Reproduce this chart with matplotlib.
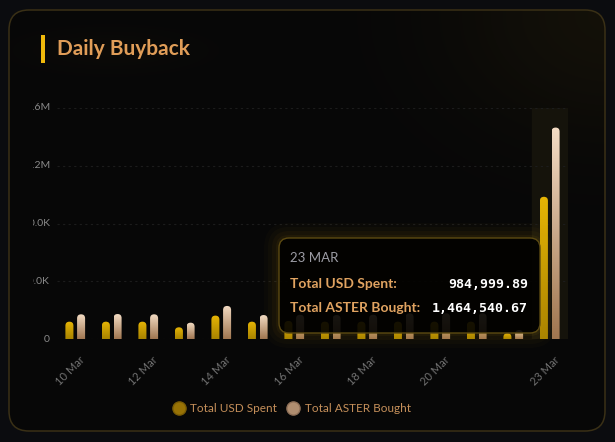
import numpy as np
import matplotlib
matplotlib.use("Agg")
import matplotlib.pyplot as plt
from matplotlib.patches import FancyBboxPatch, Rectangle
from matplotlib.transforms import Bbox, ScaledTranslation
from matplotlib.colors import LinearSegmentedColormap, to_rgb
from matplotlib.lines import Line2D

# ---------------- data ----------------
dates = ["10 Mar", "11 Mar", "12 Mar", "13 Mar", "14 Mar", "15 Mar", "16 Mar",
         "17 Mar", "18 Mar", "19 Mar", "20 Mar", "21 Mar", "22 Mar", "23 Mar"]
usd_spent = [120000, 120000, 120000, 81000, 162000, 120000, 125000,
             120000, 120000, 120000, 120000, 120000, 40000, 984999.89]
aster_bought = [171000, 173000, 171000, 113000, 229000, 166000, 168000,
                166000, 168000, 178000, 178000, 178000, 62000, 1464540.67]
y_ticks = [0, 400000, 800000, 1200000, 1600000]
y_tick_labels = ["0", "400.0K", "800.0K", "1.2M", "1.6M"]
x_label_idx = [0, 2, 4, 6, 8, 10, 13]
series_names = ["Total USD Spent", "Total ASTER Bought"]
tooltip_idx = 13
tooltip_date = "23 MAR"
tooltip_values = ["984,999.89", "1,464,540.67"]

W, H = 615, 442
fig = plt.figure(figsize=(W / 100, H / 100), dpi=100, facecolor="#0b0c0f")

# ---------------- background card ----------------
bg = fig.add_axes([0, 0, 1, 1], zorder=0)
bg.set_xlim(0, W); bg.set_ylim(H, 0); bg.axis("off")
card = FancyBboxPatch((9, 10), 596, 421, boxstyle="round,pad=0,rounding_size=20",
                      facecolor="none", edgecolor="#3a3016", linewidth=1.1, zorder=3)
bg.add_patch(card)
yy, xx = np.mgrid[0:H, 0:W]
base = np.array(to_rgb("#070707"))
gold = np.array(to_rgb("#2a220c"))
glow = 0.35 * np.exp(-(((xx - 610) / 160.0) ** 2 + ((yy - 15) / 120.0) ** 2))
glow += 0.12 * np.exp(-(((xx - 110) / 90.0) ** 2 + ((yy - 50) / 22.0) ** 2))
img = base[None, None, :] * (1 - glow[..., None]) + gold[None, None, :] * glow[..., None]
im = bg.imshow(img, extent=[0, W, H, 0], aspect="auto", zorder=1)
clip_card = FancyBboxPatch((9, 10), 596, 421, boxstyle="round,pad=0,rounding_size=20",
                           facecolor="none", edgecolor="none", transform=bg.transData)
im.set_clip_path(clip_card)

# title
bg.add_patch(Rectangle((41, 35), 4, 28, facecolor="#f0b90b", edgecolor="none", zorder=4))
bg.text(57, 49, "Daily Buyback", color="#e09d58", fontsize=15, fontweight="bold",
        family=["Lato", "DejaVu Sans"], va="center", ha="left", zorder=4)

# ---------------- main axes ----------------
ax_l, ax_r, ax_t, ax_b = 57, 568, 108, 339
ax = fig.add_axes([ax_l / W, 1 - ax_b / H, (ax_r - ax_l) / W, (ax_b - ax_t) / H], zorder=2)
ax.set_facecolor("none")
n = len(dates)
x = np.arange(n)
ax.set_xlim(-0.5, n - 0.5)
ax.set_ylim(0, 1600000)
for s in ax.spines.values():
    s.set_visible(False)

ax.axvspan(tooltip_idx - 0.5, tooltip_idx + 0.5, color="#15130b", zorder=0)
for t in y_ticks:
    ax.axhline(t, color="#1c1c1c", lw=0.8, ls=(0, (2, 3)), zorder=0.5)

# y labels (clipped on the left like the reference)
clipbox = Bbox([[33, 0], [W, H]])
for t, lab in zip(y_ticks, y_tick_labels):
    txt = ax.text(-7 / (ax_r - ax_l), t, lab, transform=ax.get_yaxis_transform(),
                  ha="right", va="center", color="#8a8a8a", fontsize=7.5,
                  family=["Lato", "DejaVu Sans"])
    txt.set_clip_path(None)
    txt.set_clip_box(clipbox)
    txt.set_clip_on(True)
ax.set_yticks([])

ax.set_xticks(x_label_idx)
ax.set_xticklabels([dates[i] for i in x_label_idx], rotation=45, ha="right",
                   va="top", rotation_mode="anchor", color="#727272", fontsize=8,
                   family=["Lato", "DejaVu Sans"])
ax.tick_params(axis="x", length=0, pad=11)
shift = ScaledTranslation(4 / 100, 0, fig.dpi_scale_trans)
for lab in ax.get_xticklabels():
    lab.set_transform(lab.get_transform() + shift)

# bars with gradients and rounded tops
width = 0.22
offs = [-0.16, 0.16]
cmaps = [LinearSegmentedColormap.from_list("g", ["#a88300", "#e6b505"]),
         LinearSegmentedColormap.from_list("b", ["#a07650", "#f3dcc4"])]
px_per_y = (ax_b - ax_t) / 1600000.0
px_per_x = (ax_r - ax_l) / float(n)
grad = np.linspace(0, 1, 256).reshape(-1, 1)
for si, vals in enumerate([usd_spent, aster_bought]):
    bars = ax.bar(x + offs[si], vals, width=width, color="none", zorder=1)
    for b in bars:
        x0, w, h = b.get_x(), b.get_width(), b.get_height()
        r = w / 2
        aspect = (1 / px_per_y) / (1 / px_per_x)
        patch = FancyBboxPatch((x0, -r * aspect * 2), w, h + r * aspect * 2,
                               boxstyle=f"round,pad=0,rounding_size={r}",
                               mutation_aspect=aspect, facecolor="none",
                               edgecolor="none", transform=ax.transData)
        ax.add_patch(patch)
        gi = ax.imshow(grad, extent=[x0, x0 + w, 0, h], origin="lower",
                       cmap=cmaps[si], aspect="auto", zorder=2)
        gi.set_clip_path(patch)
ax.set_xlim(-0.5, n - 0.5)
ax.set_ylim(0, 1600000)

# ---------------- legend ----------------
handles = [Line2D([], [], ls="none", marker="o", markersize=9.5,
                  markerfacecolor="#977205", markeredgecolor="#7a5c04"),
           Line2D([], [], ls="none", marker="o", markersize=9.5,
                  markerfacecolor="#b08e70", markeredgecolor="#8f7058")]
leg = fig.legend(handles, series_names, loc="center", bbox_to_anchor=(291 / W, 1 - 409 / H),
                 ncol=2, frameon=False, handletextpad=0.35, columnspacing=0.7,
                 handlelength=1.3, prop={"family": ["Lato", "DejaVu Sans"], "size": 8.5})
for t in leg.get_texts():
    t.set_color("#c58f5a")

# ---------------- tooltip overlay ----------------
ov = fig.add_axes([0, 0, 1, 1], zorder=5)
ov.set_xlim(0, W); ov.set_ylim(H, 0); ov.axis("off"); ov.set_facecolor("none")
tx, ty, tw, th = 279, 238, 261, 95
for i, a in enumerate([0.05, 0.04, 0.03, 0.02]):
    g = 3 + i * 4
    ov.add_patch(FancyBboxPatch((tx - g, ty - g), tw + 2 * g, th + 2 * g,
                                boxstyle=f"round,pad=0,rounding_size={10 + g}",
                                facecolor="#d9a514", edgecolor="none", alpha=a))
ov.add_patch(FancyBboxPatch((tx, ty), tw, th, boxstyle="round,pad=0,rounding_size=10",
                            facecolor="#000000", alpha=0.9, edgecolor="none"))
ov.add_patch(FancyBboxPatch((tx, ty), tw, th, boxstyle="round,pad=0,rounding_size=10",
                            facecolor="none", edgecolor="#5c4a12", linewidth=1.0))
ov.text(290, 258, tooltip_date, color="#9c9ca4", fontsize=9.5,
        family=["Lato", "DejaVu Sans"], va="center", ha="left")
for i, (name, val) in enumerate(zip(series_names, tooltip_values)):
    yv = 284 + i * 24
    ov.text(290, yv, name + ":", color="#e0a361", fontsize=10, fontweight="bold",
            family=["Lato", "DejaVu Sans"], va="center", ha="left")
    ov.text(528, yv, val, color="#ffffff", fontsize=9.5, fontweight="bold",
            family=["DejaVu Sans Mono"], va="center", ha="right")

fig.savefig("out.png", dpi=100, facecolor=fig.get_facecolor())
